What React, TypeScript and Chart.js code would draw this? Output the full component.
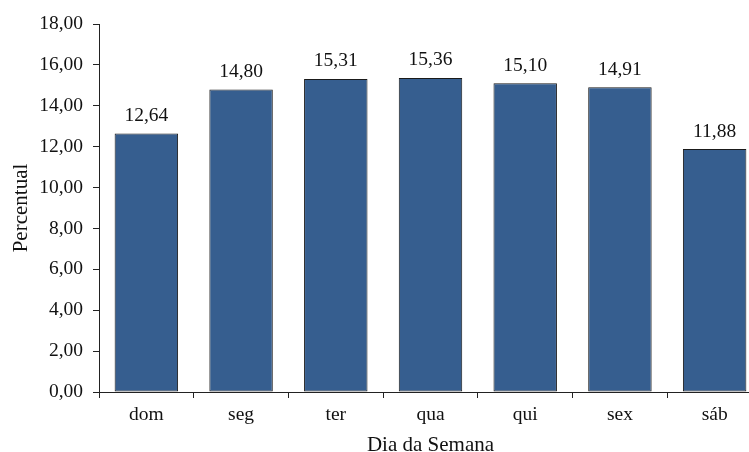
import React, { useEffect, useRef } from "react";
import { Chart, registerables } from "chart.js";

Chart.register(...registerables);

const days = ["dom", "seg", "ter", "qua", "qui", "sex", "sáb"];
const percents = [12.64, 14.8, 15.31, 15.36, 15.1, 14.91, 11.88];
const yTicks = [0, 2, 4, 6, 8, 10, 12, 14, 16, 18];
const yTitle = "Percentual";
const xTitle = "Dia da Semana";

const fmt = (v: number) => v.toFixed(2).replace(".", ",");
const FONT = "'Liberation Serif', 'Times New Roman', Tinos, serif";
const TICK_SIZE = 19.5;
const TITLE_SIZE = 21;

const valueLabels = {
  id: "valueLabels",
  afterDatasetsDraw(chart: any) {
    const ctx = chart.ctx;
    const meta = chart.getDatasetMeta(0);
    ctx.save();
    ctx.font = `${TICK_SIZE}px ${FONT}`;
    ctx.fillStyle = "#111";
    ctx.textAlign = "center";
    ctx.textBaseline = "alphabetic";
    meta.data.forEach((bar: any, i: number) => {
      ctx.fillText(fmt(percents[i]), bar.x, bar.y - 12.5);
    });
    ctx.restore();
  },
};

export default function App() {
  const ref = useRef<HTMLCanvasElement>(null);
  useEffect(() => {
    let chart: Chart | null = null;
    let cancelled = false;
    const build = () => {
      if (cancelled || !ref.current) return;
      chart = new Chart(ref.current, {
        type: "bar",
        data: {
          labels: days,
          datasets: [
            {
              data: percents,
              backgroundColor: "#365E8F",
              borderColor: "#1a1a1a",
              borderWidth: 1,
              borderSkipped: false,
              categoryPercentage: 1,
              barPercentage: 0.67,
            },
          ],
        },
        options: {
          animation: false,
          responsive: false,
          maintainAspectRatio: false,
          layout: { padding: { top: 24, right: 5, left: 0, bottom: 0 } },
          plugins: { legend: { display: false }, tooltip: { enabled: false } },
          scales: {
            x: {
              grid: {
                offset: true,
                drawOnChartArea: false,
                tickLength: 6,
                color: "#222",
              },
              border: { color: "#222", width: 1 },
              ticks: {
                color: "#111",
                font: { family: FONT, size: TICK_SIZE },
                padding: 5,
                maxRotation: 0,
              },
              title: {
                display: true,
                text: xTitle,
                color: "#111",
                font: { family: FONT, size: TITLE_SIZE },
                padding: { top: 0, bottom: 2 },
              },
              afterFit: (s: any) => {
                s.height = 68;
              },
            },
            y: {
              min: 0,
              max: 18,
              afterBuildTicks: (s: any) => {
                s.ticks = yTicks.map((v) => ({ value: v }));
              },
              grid: {
                drawOnChartArea: false,
                tickLength: 6,
                color: "#222",
              },
              border: { color: "#222", width: 1 },
              ticks: {
                color: "#111",
                font: { family: FONT, size: TICK_SIZE },
                padding: 10,
                callback: (v: any) => fmt(Number(v)),
              },
              title: {
                display: true,
                text: yTitle,
                color: "#111",
                font: { family: FONT, size: TITLE_SIZE },
                padding: { top: 9, bottom: 0 },
              },
              afterFit: (s: any) => {
                s.width = 99;
              },
            },
          },
        },
        plugins: [valueLabels],
      });
    };
    const fonts = (document as any).fonts;
    if (fonts && fonts.load) {
      fonts.load(`20px 'Liberation Serif'`).then(build, build);
    } else {
      build();
    }
    return () => {
      cancelled = true;
      if (chart) chart.destroy();
    };
  }, []);
  return (
    <div
      style={{
        position: "fixed",
        left: 0,
        top: 0,
        width: 749,
        height: 452,
        overflow: "hidden",
        background: "#fff",
      }}
    >
      <canvas ref={ref} width={767} height={460} style={{ display: "block" }} />
    </div>
  );
}
